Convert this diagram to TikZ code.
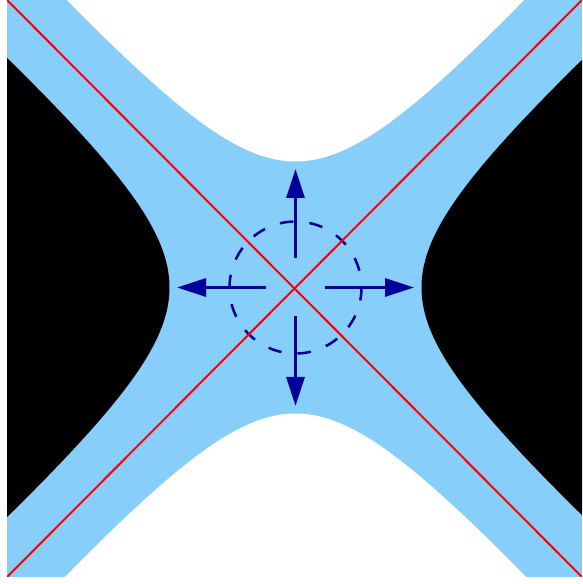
\documentclass[tikz,border=0pt]{standalone}
\usetikzlibrary{arrows.meta,calc}
\definecolor{skyb}{RGB}{135,206,250}
\definecolor{navyb}{RGB}{0,0,153}
\begin{document}
\begin{tikzpicture}[x=1pt,y=1pt,
  flowarrow/.style={draw=navyb, fill=navyb, line width=3pt, -{Triangle[length=29pt,width=18pt]}},
  separatrix/.style={draw=red, line width=2pt},
  nbhd/.style={draw=navyb, line width=2.5pt, dash pattern=on 13.6pt off 16pt}]
\useasboundingbox (0,0) rectangle (582,584);
\coordinate (c) at (295.5,296.5);
\coordinate (bl) at (7,7);
\coordinate (tr) at (582,584);
\coordinate (tl) at (7,584);
\coordinate (br) at (582,7);
\fill[white] (0,0) rectangle (582,584);
\fill[skyb] (bl) rectangle (tr);
\begin{scope}
  \clip (bl) rectangle (tr);
  % black regions (left and right)
  \fill[black] plot[domain=-2:2, samples=121, smooth] ({295.5+126*cosh(\x)}, {296.5+111.5*sinh(\x)}) -- cycle;
  \fill[black] plot[domain=-2:2, samples=121, smooth] ({295.5-126*cosh(\x)}, {296.5+111.5*sinh(\x)}) -- cycle;
  % white regions (top and bottom)
  \fill[white] plot[domain=-2:2, samples=121, smooth] ({295.5+111.5*sinh(\x)}, {296.5+126*cosh(\x)}) -- cycle;
  \fill[white] plot[domain=-2:2, samples=121, smooth] ({295.5+111.5*sinh(\x)}, {296.5-126*cosh(\x)}) -- cycle;
\end{scope}
% dashed neighbourhood
\draw[nbhd] (c) ++(-11:66) arc[start angle=-11, delta angle=360, radius=66];
% separatrices
\begin{scope}
  \clip (bl) rectangle (tr);
  \draw[separatrix] (bl) -- (tr);
  \draw[separatrix] (tl) -- (br);
\end{scope}
% arrows
\coordinate (us) at ($(c)+(0,29)$);
\coordinate (ue) at ($(c)+(0,118.5)$);
\coordinate (ds) at ($(c)+(0,-29)$);
\coordinate (de) at ($(c)+(0,-118.5)$);
\coordinate (ls) at ($(c)+(-29.5,0)$);
\coordinate (le) at ($(c)+(-118.5,0)$);
\coordinate (rs) at ($(c)+(29.5,0)$);
\coordinate (re) at ($(c)+(118.5,0)$);
\draw[flowarrow] (us) -- (ue);
\draw[flowarrow] (ds) -- (de);
\draw[flowarrow] (ls) -- (le);
\draw[flowarrow] (rs) -- (re);
\end{tikzpicture}
\end{document}
